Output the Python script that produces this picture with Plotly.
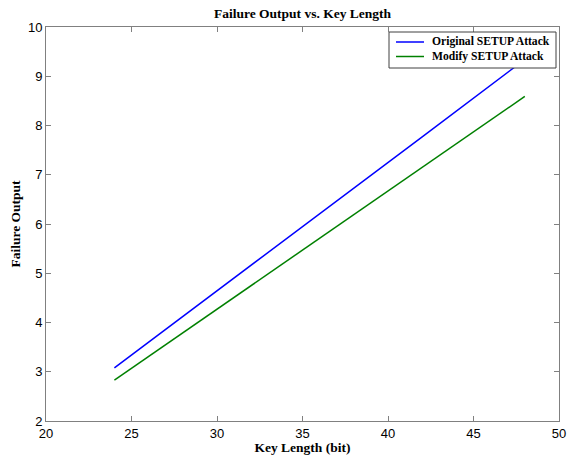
import plotly.graph_objects as go

key_length = [24, 30, 36, 42, 48]
original_setup = [3.08, 4.64, 6.21, 7.77, 9.34]
modify_setup = [2.83, 4.27, 5.71, 7.15, 8.59]

series_names = ["Original SETUP Attack", "Modify SETUP Attack"]
series_colors = ["#0000ff", "#008000"]

x_ticks = [20, 25, 30, 35, 40, 45, 50]
y_ticks = [2, 3, 4, 5, 6, 7, 8, 9, 10]

serif = "Liberation Serif"
sans = "Liberation Sans"

W, H = 569, 455
L, R, T, B = 46, 10, 27, 34
PW, PH = W - L - R, H - T - B


def px_to_paper(px, py):
    return (px - L) / PW, (H - B - py) / PH


fig = go.Figure()
for name, color, ys in zip(series_names, series_colors, [original_setup, modify_setup]):
    fig.add_trace(go.Scatter(x=key_length, y=ys, mode="lines", name=name,
                             line=dict(color=color, width=1.5), showlegend=False))

axis_common = dict(showgrid=False, zeroline=False, showline=True, linecolor="#808080",
                   linewidth=1, mirror="ticks", ticks="inside", ticklen=5,
                   tickcolor="#808080", automargin=False, ticklabeloverflow="allow",
                   tickfont=dict(family=sans, size=13, color="black"))

# manual legend (MATLAB-like compact box)
bx0, by0 = px_to_paper(389, 32)
bx1, by1 = px_to_paper(556, 68)
shapes = [dict(type="rect", xref="paper", yref="paper", x0=bx0, y0=by1, x1=bx1, y1=by0,
               line=dict(color="#404040", width=1), fillcolor="white", layer="above")]
annotations = []
for i, (name, color) in enumerate(zip(series_names, series_colors)):
    yy = 42 + i * 14.5
    lx0, ly = px_to_paper(396, yy)
    lx1, _ = px_to_paper(424, yy)
    tx, _ = px_to_paper(430, yy)
    shapes.append(dict(type="line", xref="paper", yref="paper", x0=lx0, x1=lx1, y0=ly, y1=ly,
                       line=dict(color=color, width=1.5), layer="above"))
    annotations.append(dict(text="<b>%s</b>" % name, xref="paper", yref="paper", x=tx, y=ly,
                            xanchor="left", yanchor="middle", showarrow=False,
                            font=dict(family=serif, size=11.6, color="black")))

fig.update_layout(
    width=W, height=H,
    margin=dict(l=L, r=R, t=T, b=B),
    paper_bgcolor="white", plot_bgcolor="white",
    title=dict(text="<b>Failure Output vs. Key Length</b>", x=(L + PW / 2) / W, xanchor="center",
               yref="container", y=1 - 13.5 / H, yanchor="middle",
               font=dict(family=serif, size=13.5, color="black")),
    xaxis=dict(range=[20, 50], tickvals=x_ticks, ticktext=[str(v) for v in x_ticks],
               title=dict(text="<b>Key Length (bit)</b>", font=dict(family=serif, size=13.5, color="black"),
                          standoff=1),
               **axis_common),
    yaxis=dict(range=[2, 10], tickvals=y_ticks, ticktext=[str(v) for v in y_ticks],
               title=dict(text="<b>Failure Output</b>", font=dict(family=serif, size=13.5, color="black"),
                          standoff=4),
               **axis_common),
    shapes=shapes,
    annotations=annotations,
    showlegend=False,
)

fig.write_html("out.html", config={"displayModeBar": False},
               post_script="document.body.style.margin='0';")
